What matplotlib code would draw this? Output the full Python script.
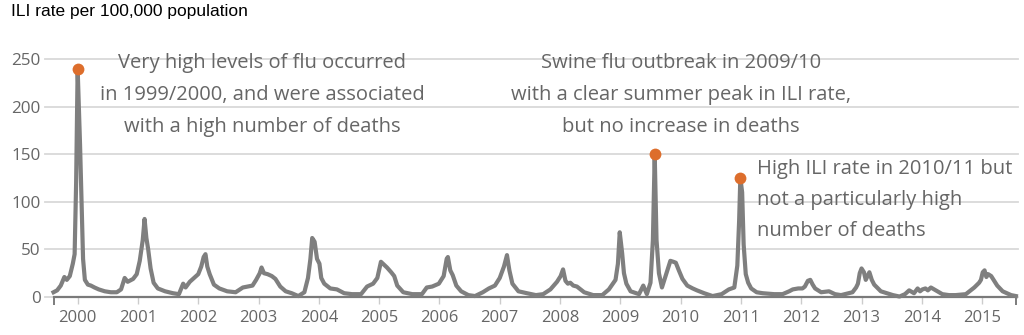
import matplotlib
matplotlib.use("Agg")
import matplotlib.pyplot as plt

# weekly ILI rate (decimal year, rate per 100,000)
ili_year = [
    1999.60, 1999.66, 1999.72, 1999.78, 1999.82, 1999.87, 1999.92, 1999.95, 1999.975, 2000.00,
    2000.04, 2000.07, 2000.09, 2000.12, 2000.17, 2000.22, 2000.28, 2000.35, 2000.45, 2000.55,
    2000.65, 2000.72, 2000.78, 2000.83, 2000.92, 2000.98, 2001.03, 2001.08, 2001.11, 2001.14,
    2001.17, 2001.21, 2001.26, 2001.33, 2001.45, 2001.58, 2001.68, 2001.75, 2001.79, 2001.86,
    2001.93, 2002.00, 2002.05, 2002.09, 2002.12, 2002.15, 2002.19, 2002.26, 2002.35, 2002.48,
    2002.62, 2002.74, 2002.82, 2002.90, 2002.96, 2003.02, 2003.05, 2003.09, 2003.15, 2003.22,
    2003.28, 2003.36, 2003.45, 2003.55, 2003.66, 2003.76, 2003.82, 2003.86, 2003.89, 2003.93,
    2003.97, 2004.01, 2004.04, 2004.09, 2004.19, 2004.30, 2004.42, 2004.55, 2004.70, 2004.80,
    2004.90, 2004.97, 2005.03, 2005.08, 2005.13, 2005.20, 2005.25, 2005.30, 2005.40, 2005.55,
    2005.71, 2005.79, 2005.88, 2005.99, 2006.07, 2006.12, 2006.14, 2006.18, 2006.22, 2006.28,
    2006.36, 2006.48, 2006.59, 2006.72, 2006.82, 2006.92, 2007.00, 2007.07, 2007.12, 2007.16,
    2007.21, 2007.31, 2007.45, 2007.60, 2007.72, 2007.84, 2007.95, 2008.01, 2008.05, 2008.09,
    2008.13, 2008.17, 2008.22, 2008.28, 2008.40, 2008.55, 2008.70, 2008.81, 2008.92, 2008.96,
    2008.99, 2009.03, 2009.06, 2009.10, 2009.17, 2009.31, 2009.38, 2009.44, 2009.50, 2009.54,
    2009.57, 2009.60, 2009.64, 2009.69, 2009.74, 2009.78, 2009.83, 2009.88, 2009.92, 2009.97,
    2010.03, 2010.11, 2010.20, 2010.27, 2010.39, 2010.53, 2010.68, 2010.80, 2010.89, 2010.94,
    2010.97, 2010.99, 2011.02, 2011.045, 2011.08, 2011.12, 2011.17, 2011.26, 2011.36, 2011.55,
    2011.69, 2011.80, 2011.86, 2011.95, 2012.02, 2012.06, 2012.11, 2012.15, 2012.19, 2012.23,
    2012.33, 2012.46, 2012.56, 2012.66, 2012.85, 2012.91, 2012.94, 2012.97, 2013.00, 2013.04,
    2013.07, 2013.13, 2013.17, 2013.21, 2013.32, 2013.42, 2013.52, 2013.63, 2013.72, 2013.79,
    2013.87, 2013.93, 2013.97, 2014.01, 2014.06, 2014.10, 2014.15, 2014.23, 2014.34, 2014.45,
    2014.56, 2014.73, 2014.87, 2014.95, 2014.98, 2015.01, 2015.04, 2015.07, 2015.10, 2015.15,
    2015.20, 2015.25, 2015.34, 2015.48, 2015.56,
]
ili_rate = [
    5, 7, 12, 21, 18, 22, 35, 45, 120, 240,
    160, 90, 40, 18, 13, 12, 10, 8, 6, 5,
    5, 8, 20, 16, 19, 24, 38, 60, 82, 62,
    50, 30, 15, 9, 6, 4, 3, 14, 10, 16,
    20, 24, 32, 42, 45, 32, 24, 13, 9, 6,
    5, 10, 11, 12, 18, 25, 31, 25, 24, 22,
    19, 11, 6, 4, 1, 5, 20, 40, 62, 58,
    40, 35, 20, 14, 9, 8, 4, 3, 3, 11,
    14, 20, 37, 34, 31, 26, 22, 12, 5, 3,
    3, 10, 11, 14, 22, 40, 42, 28, 23, 12,
    6, 2, 1, 5, 9, 12, 20, 32, 44, 28,
    14, 6, 4, 2, 3, 8, 16, 22, 29, 17,
    14, 15, 12, 11, 5, 2, 2, 8, 18, 35,
    68, 46, 25, 14, 6, 3, 12, 3, 15, 60,
    150, 60, 25, 10, 20, 28, 38, 37, 36, 28,
    19, 12, 9, 7, 4, 1, 3, 8, 10, 33,
    80, 125, 110, 55, 24, 15, 9, 5, 4, 3,
    3, 6, 8, 9, 9, 11, 17, 18, 13, 9,
    5, 6, 3, 2, 5, 10, 14, 25, 30, 26,
    18, 26, 18, 13, 6, 4, 2, 0.5, 3, 7,
    4, 9, 6, 8, 9, 7, 10, 7, 3, 2,
    2, 3, 10, 15, 18, 26, 28, 21, 24, 22,
    17, 12, 6, 2, 1,
]

peak_year = [2000.00, 2009.57, 2010.99]
peak_rate = [240, 150, 125]

years = list(range(2000, 2016))
y_ticks = [0, 50, 100, 150, 200, 250]

notes = [
    "Very high levels of flu occurred\nin 1999/2000, and were associated\nwith a high number of deaths",
    "Swine flu outbreak in 2009/10\nwith a clear summer peak in ILI rate,\nbut no increase in deaths",
    "High ILI rate in 2010/11 but\nnot a particularly high\nnumber of deaths",
]

LINE_C = "#7f7f7f"
DOT_C = "#dd6e2c"
TEXT_C = "#666666"
GRID_C = "#d9d9d9"

plt.rcParams["font.family"] = ["Open Sans", "DejaVu Sans"]

fig = plt.figure(figsize=(10.24, 3.35), dpi=100)
ax = fig.add_axes([0.0439, 0.1134, 0.9502, 0.7104])
ax.set_xlim(1999.458, 2015.594)
ax.set_ylim(0, 250)

# gridlines (light) from the left edge, dark baseline only under the data
for v in y_ticks:
    ax.axhline(v, color=GRID_C, lw=1.3, zorder=1, clip_on=False)
ax.plot([ili_year[0], ili_year[-1]], [0, 0], color="#7a7a7a", lw=1.6,
        zorder=2, clip_on=False)

ax.plot(ili_year, ili_rate, color=LINE_C, lw=3.0, solid_joinstyle="round",
        zorder=3, clip_on=False)
ax.plot(peak_year, peak_rate, "o", color=DOT_C, ms=8.5, mec="none",
        zorder=4, clip_on=False)

for s in ax.spines.values():
    s.set_visible(False)

ax.set_yticks(y_ticks)
ax.tick_params(axis="y", length=0, pad=3, labelsize=12.3, labelcolor=TEXT_C)
ax.set_xticks(years)
ax.set_xticks([ili_year[0], ili_year[-1]], minor=True)
ax.tick_params(axis="x", which="major", length=5, width=1, color="#cccccc",
               pad=4, labelsize=12, labelcolor=TEXT_C)
ax.tick_params(axis="x", which="minor", length=6, width=1.2, color="#666666")

# annotations
ax.text(2003.06, 212.5, notes[0], ha="center", va="center", fontsize=14.5,
        color=TEXT_C, linespacing=1.8, clip_on=False)
ax.text(2010.005, 212.5, notes[1], ha="center", va="center", fontsize=14.5,
        color=TEXT_C, linespacing=1.8, clip_on=False)
ax.text(2011.27, 102, notes[2], ha="left", va="center", fontsize=14.5,
        color=TEXT_C, linespacing=1.75, clip_on=False)

fig.text(0.011, 0.965, "ILI rate per 100,000 population", ha="left", va="center",
         fontsize=12.5, color="black", family=["Liberation Sans", "DejaVu Sans"])

fig.savefig("out.png", dpi=100)
